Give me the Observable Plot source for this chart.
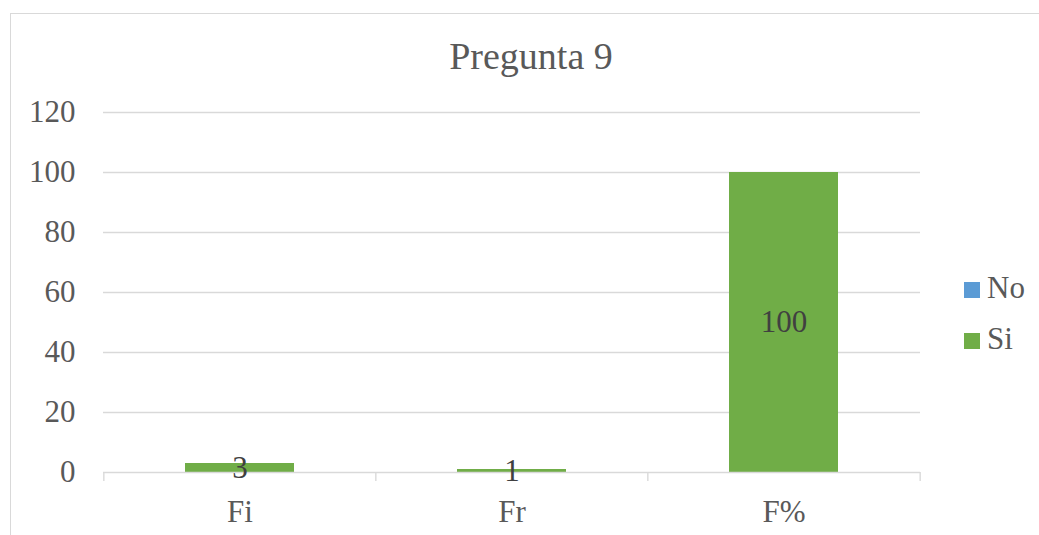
<!DOCTYPE html>
<html>
<head>
<meta charset="utf-8">
<script src="https://cdn.jsdelivr.net/npm/d3@7"></script>
<script src="https://cdn.jsdelivr.net/npm/@observablehq/plot@0.6"></script>
<style>
  html, body { margin: 0; padding: 0; background: #fff; }
  body { width: 1039px; height: 535px; position: relative; overflow: hidden;
         font-family: "Liberation Serif", "Times New Roman", serif; }
  #frame { position: absolute; left: 10px; top: 13px; width: 1100px; height: 600px;
           border-left: 1.5px solid #d9d9d9; border-top: 1.5px solid #d9d9d9; box-sizing: border-box; }
  #chart { position: absolute; left: 0; top: 0; }
  #chart svg, #chart svg text { font-family: "Liberation Serif", "Times New Roman", serif !important; }
  #title { position: absolute; left: 0; width: 1062px; top: 37px; text-align: center;
           font-size: 38px; line-height: 1; color: #595959; }
  .leg { position: absolute; left: 964px; font-size: 31px; line-height: 1; color: #595959; }
  .leg .sw { display: inline-block; width: 16px; height: 16px; vertical-align: baseline; margin-right: 7px; }
</style>
</head>
<body>
<div id="frame"></div>
<div id="chart"></div>
<div id="title">Pregunta 9</div>
<div id="legend"></div>
<script>
const title = "Pregunta 9";
const categories = ["Fi", "Fr", "F%"];
const seriesNames = ["No", "Si"];
const noValues = [0, 0, 0];
const siValues = [3, 1, 100];
const yTicks = [0, 20, 40, 60, 80, 100, 120];
const colors = ["#5B9BD5", "#70AD47"];

const data = [];
categories.forEach((c, i) => {
  data.push({cat: c, series: "No", value: noValues[i]});
  data.push({cat: c, series: "Si", value: siValues[i]});
});

const W = 1039, H = 535;
const mL = 103, mR = 119, mT = 112, mB = 63;
const step = (W - mL - mR) / categories.length;
const serif = '"Liberation Serif", "Times New Roman", serif';

const plot = Plot.plot({
  width: W, height: H,
  marginLeft: mL, marginRight: mR, marginTop: mT, marginBottom: mB,
  style: {fontFamily: serif, fontSize: "31px", color: "#595959", background: "transparent"},
  x: {domain: categories, paddingInner: 0.6, paddingOuter: 0.3, label: null},
  y: {domain: [0, 120], ticks: yTicks, label: null},
  color: {domain: seriesNames, range: colors},
  marks: [
    Plot.gridY(yTicks.filter(t => t > 0), {stroke: "#d9d9d9", strokeOpacity: 1, strokeWidth: 1.4}),
    Plot.axisY({ticks: yTicks, tickSize: 0, tickPadding: 28, fontSize: 31, fontFamily: serif, fill: "#595959", label: null}),
    Plot.barY(data, Plot.stackY({x: "cat", y: "value", z: "series", fill: "series", order: seriesNames})),
    Plot.ruleY([0], {stroke: "#d9d9d9", strokeWidth: 1.4}),
    Plot.ruleX(categories, {x: d => d, y1: 0, y2: -3, dx: -step / 2, stroke: "#d9d9d9", strokeWidth: 1.4}),
    Plot.ruleX(categories.slice(-1), {x: d => d, y1: 0, y2: -3, dx: step / 2, stroke: "#d9d9d9", strokeWidth: 1.4}),
    Plot.axisX({tickSize: 0, tickPadding: 27, fontSize: 31, fontFamily: serif, fill: "#595959", label: null}),
    Plot.text(data, Plot.stackY({x: "cat", y: "value", z: "series", order: seriesNames,
      filter: d => d.series === "Si", text: d => String(d.value), fill: "#404040", fontSize: 31, fontFamily: serif}))
  ]
});
document.getElementById("chart").appendChild(plot);

// legend
const leg = document.getElementById("legend");
seriesNames.forEach((s, i) => {
  const el = document.createElement("div");
  el.className = "leg";
  el.style.top = (272 + i * 51) + "px";
  el.innerHTML = `<span class="sw" style="background:${colors[i]}"></span>${s}`;
  leg.appendChild(el);
});
</script>
</body>
</html>
